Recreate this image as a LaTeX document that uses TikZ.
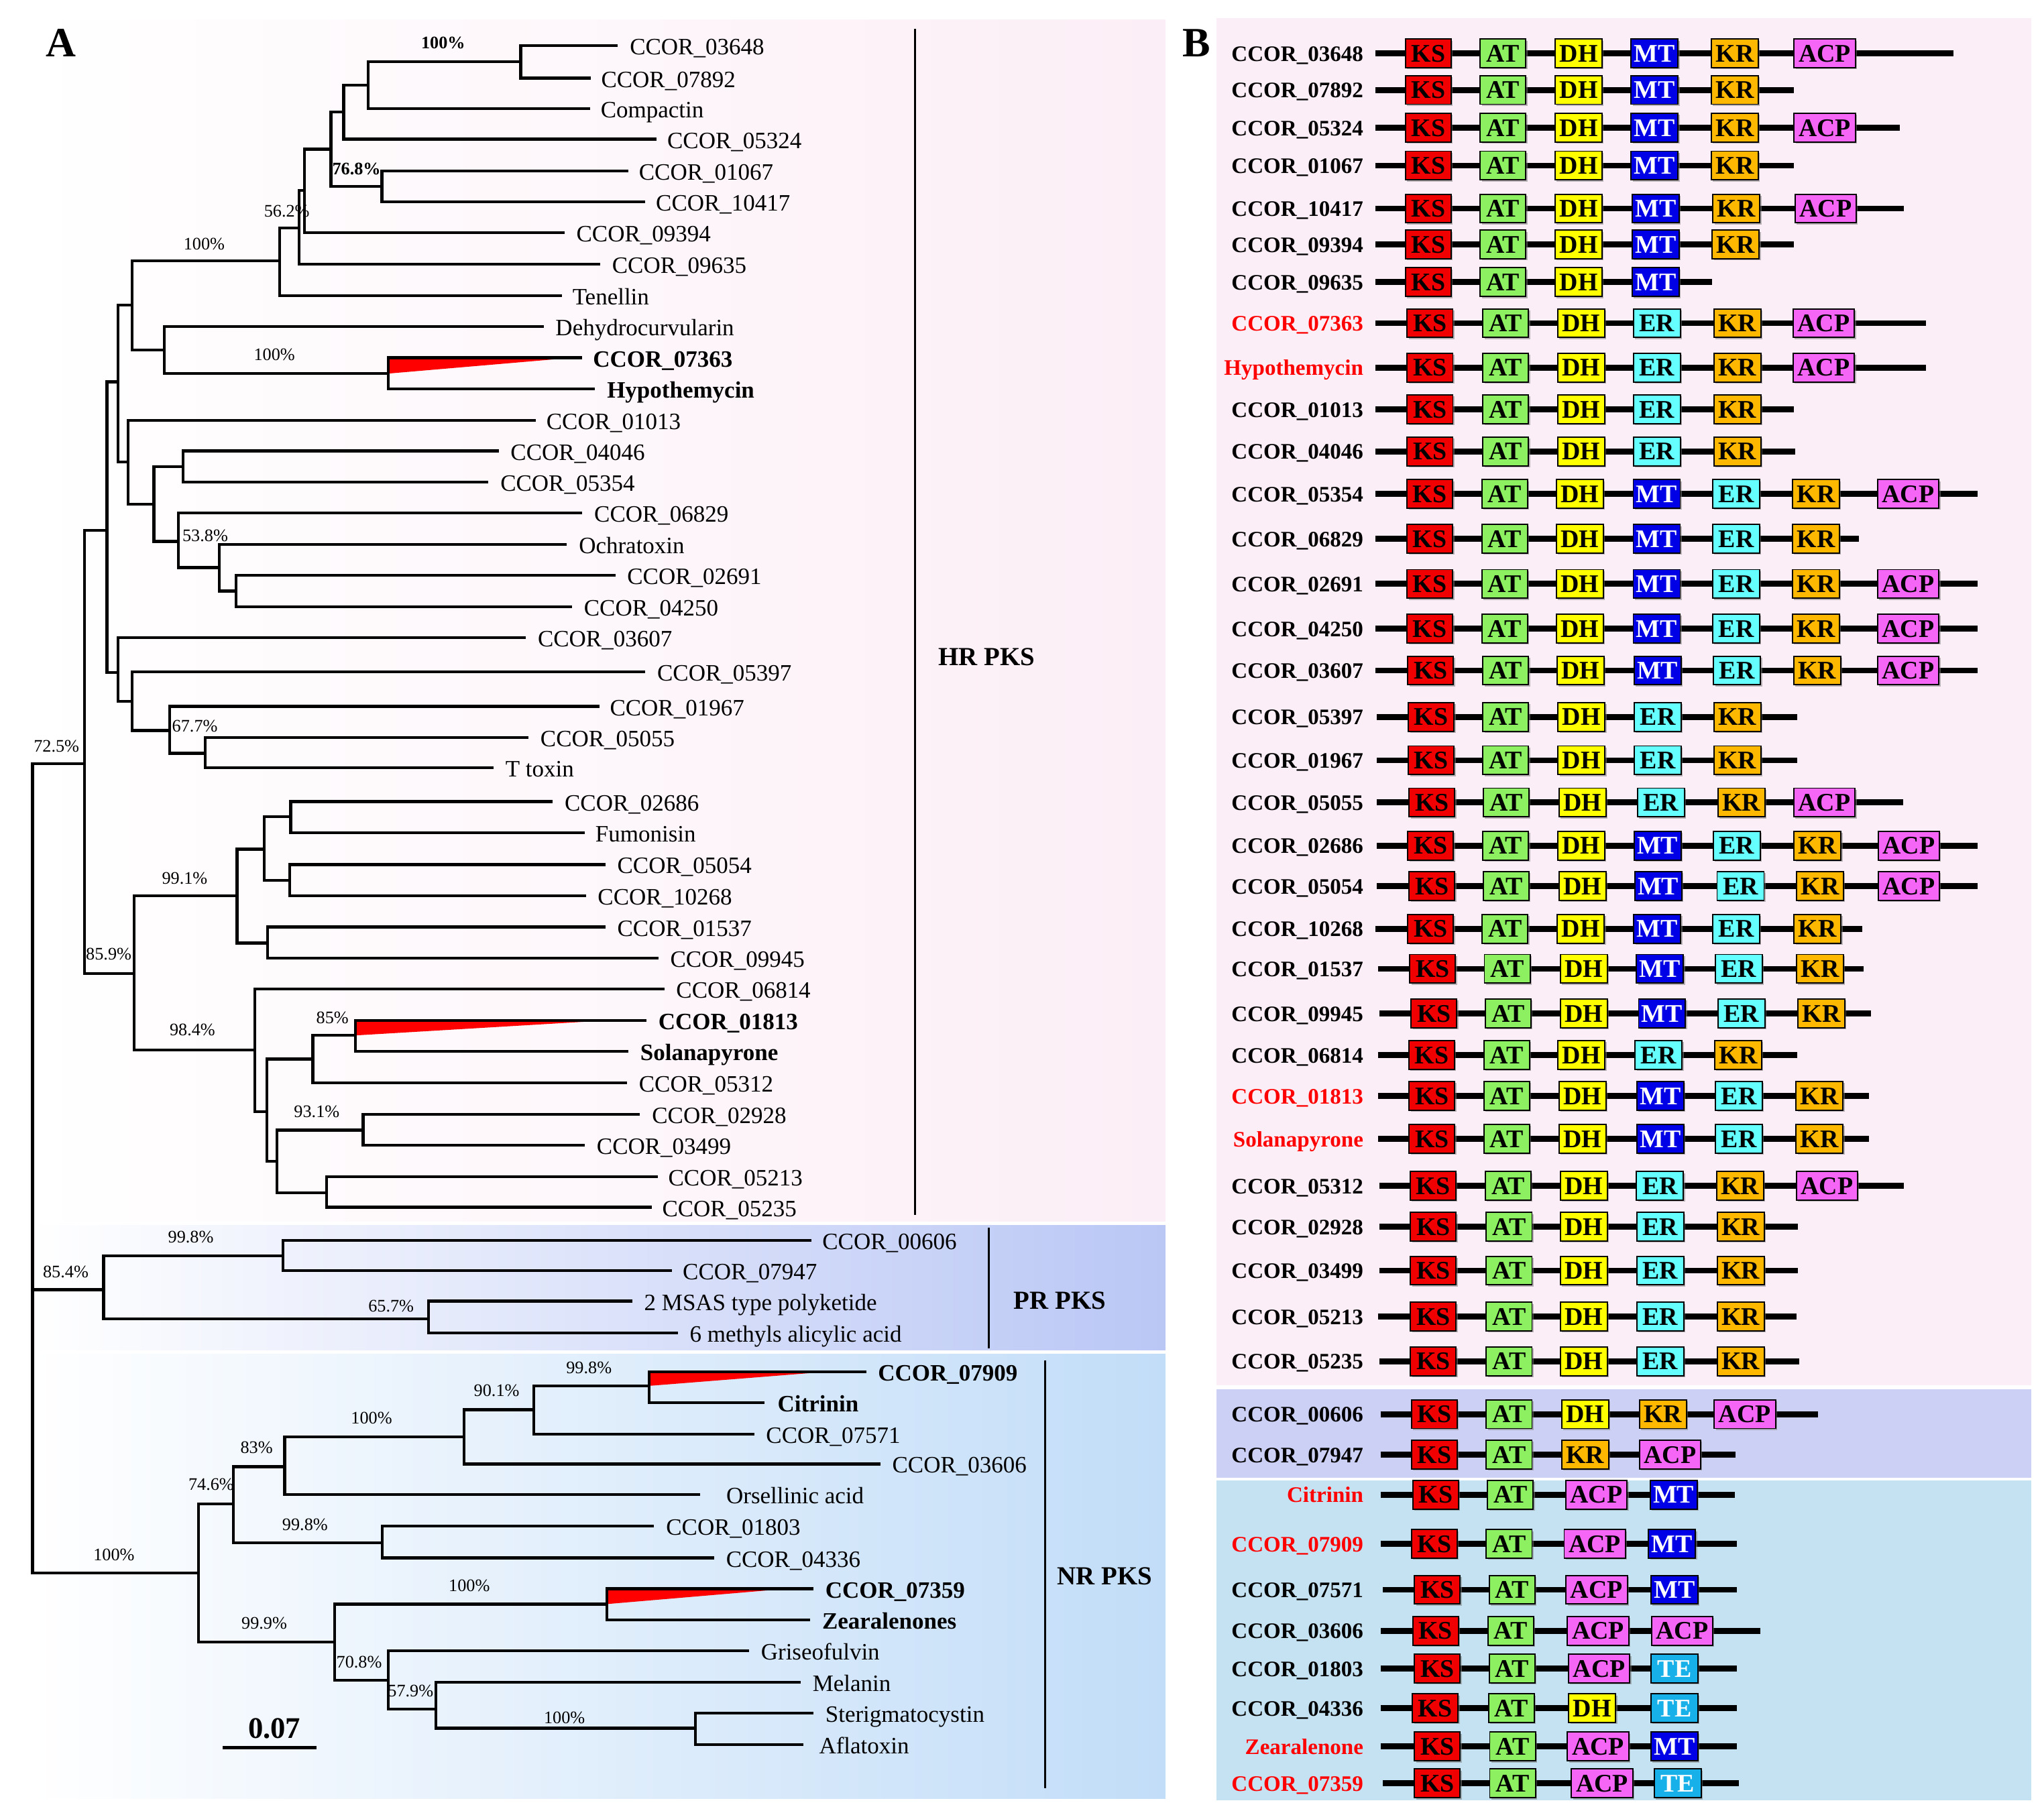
\documentclass[tikz,border=0pt]{standalone}
\usepackage{fontspec}
\setmainfont{Liberation Serif}
\usetikzlibrary{shadows}
\definecolor{hrpink}{RGB}{252,238,246}
\definecolor{prblue}{RGB}{186,199,245}
\definecolor{nrblue}{RGB}{194,221,248}
\definecolor{bpink}{RGB}{251,238,246}
\definecolor{blav}{RGB}{205,208,245}
\definecolor{bblue}{RGB}{196,226,242}
\definecolor{cKS}{RGB}{240,0,0}
\definecolor{cAT}{RGB}{140,240,96}
\definecolor{cDH}{RGB}{255,255,0}
\definecolor{cMT}{RGB}{0,0,230}
\definecolor{cER}{RGB}{102,255,255}
\definecolor{cKR}{RGB}{255,184,0}
\definecolor{cACP}{RGB}{246,102,246}
\definecolor{cTE}{RGB}{24,176,232}
\colorlet{tKS}{black}
\colorlet{tAT}{black}
\colorlet{tDH}{black}
\colorlet{tMT}{white}
\colorlet{tER}{black}
\colorlet{tKR}{black}
\colorlet{tACP}{black}
\colorlet{tTE}{white}
\def\domwKS{35pt}
\def\domwAT{35pt}
\def\domwDH{36pt}
\def\domwMT{36pt}
\def\domwER{36pt}
\def\domwKR{36pt}
\def\domwACP{47pt}
\def\domwTE{36pt}
\newcommand{\fsz}[1]{\fontsize{#1}{#1}\selectfont}
\newcommand{\pksrow}[7]{%
  \coordinate (s#1) at (#5,#2);
  \coordinate (e#1) at (#6,#2);
  \draw[backbone] (s#1) -- (e#1);
  \node[blab, text=#3] (lab#1) at ([yshift=-6pt]1046,#2) {#4};
  \foreach \dn/\dx [count=\k] in {#7}{%
    \node[dom, fill=c\dn, text=t\dn, minimum width=\csname domw\dn\endcsname] (#1d\k) at (\dx,#2) {\dn};
  }%
}
\begin{document}
\begin{tikzpicture}[x=1pt,y=-1pt,
  br/.style={line width=2.2pt, line join=miter},
  tip/.style={anchor=base west, inner sep=0pt, font=\fsz{18}},
  tipb/.style={anchor=base west, inner sep=0pt, font=\bfseries\fsz{18}},
  bs/.style={inner sep=0pt, font=\fsz{13.5}},
  bsb/.style={inner sep=0pt, font=\bfseries\fsz{13.5}},
  grp/.style={inner sep=0pt, font=\bfseries\fsz{20}},
  grpline/.style={line width=1.6pt},
  panel/.style={inner sep=0pt, font=\bfseries\fsz{32}},
  blab/.style={anchor=base east, inner sep=0pt, font=\bfseries\fsz{17}},
  backbone/.style={line width=4.5pt},
  dom/.style={draw=black, line width=1pt, minimum height=22pt, inner sep=0pt,
    text height=13pt, text depth=0pt, font=\bfseries\fsz{19.5},
    drop shadow={shadow xshift=1.2pt,shadow yshift=-1.2pt,opacity=0.55}}
]
\useasboundingbox (0,0) rectangle (1568,1389);
\fill[white] (0,0) rectangle (1568,1389);
% ---------- backgrounds ----------
\shade[left color=white, right color=hrpink] (22,15) rectangle (894,937);
\shade[left color=white, right color=prblue] (22,940) rectangle (894,1036);
\shade[left color=white, right color=nrblue] (22,1039) rectangle (894,1380);
\fill[bpink] (933,14) rectangle (1558,1063);
\fill[blav] (933,1066) rectangle (1558,1134);
\fill[bblue] (933,1136) rectangle (1558,1381);
% ---------- panel letters ----------
\node[panel] (pA) at (47,33) {A};
\node[panel] (pB) at (918,33) {B};
% ---------- tree tips ----------
\coordinate (t03648) at (474,35);
\coordinate (t07892) at (453,60);
\coordinate (tcomp) at (452.6,83.4);
\coordinate (t05324) at (503.7,106.8);
\coordinate (t01067) at (482,131);
\coordinate (t10417) at (495,155);
\coordinate (t09394) at (433,178.6);
\coordinate (t09635) at (460.4,202.5);
\coordinate (ttene) at (431,226.9);
\coordinate (tdehy) at (417,250.7);
\coordinate (t07363) at (446.7,274.4);
\coordinate (thypo) at (456.5,298.5);
\coordinate (t01013) at (411,322.4);
\coordinate (t04046) at (382.5,346);
\coordinate (t05354) at (374.7,370);
\coordinate (t06829) at (446.7,393.6);
\coordinate (tochr) at (434.9,417.7);
\coordinate (t02691) at (472,441.3);
\coordinate (t04250) at (438.8,465.4);
\coordinate (t03607) at (403.4,489.3);
\coordinate (t05397) at (495,515.3);
\coordinate (t01967) at (459.7,542);
\coordinate (t05055) at (405.4,565.8);
\coordinate (tttox) at (378.6,589.2);
\coordinate (t02686) at (424,615);
\coordinate (tfumo) at (448.6,639);
\coordinate (t05054) at (464.4,663.3);
\coordinate (t10268) at (449.4,687.4);
\coordinate (t01537) at (464.4,711.2);
\coordinate (t09945) at (505,735.3);
\coordinate (t06814) at (509.6,758.8);
\coordinate (t01813) at (495.9,783);
\coordinate (tsola) at (482,806.8);
\coordinate (t05312) at (481,830.7);
\coordinate (t02928) at (491,854.8);
\coordinate (t03499) at (448.6,878.7);
\coordinate (t05213) at (504.5,902.8);
\coordinate (t05235) at (499.8,926.2);
\coordinate (t00606) at (622.7,951.7);
\coordinate (t07947) at (515.6,974.7);
\coordinate (tmsas) at (485,998.3);
\coordinate (tmeth) at (520,1022.8);
\coordinate (t07909) at (664.4,1052.4);
\coordinate (tcitr) at (586.4,1076);
\coordinate (t07571) at (578.5,1100.2);
\coordinate (t03606) at (675.3,1123.2);
\coordinate (torse) at (537,1146.8);
\coordinate (t01803) at (501.8,1171);
\coordinate (t04336) at (547.8,1195.3);
\coordinate (t07359) at (624,1218.9);
\coordinate (tzear) at (621.5,1242.8);
\coordinate (tgris) at (574.6,1266.4);
\coordinate (tmela) at (614.2,1290.6);
\coordinate (tster) at (624,1314.2);
\coordinate (tafla) at (616.2,1338.5);
% ---------- internal nodes ----------
\coordinate (a1) at (399.5,47.5);
\coordinate (a2) at (282.6,65.4);
\coordinate (a3) at (263.7,86);
\coordinate (a4) at (293,143);
\coordinate (a5) at (253.8,114.5);
\coordinate (a6) at (233.4,146);
\coordinate (a7) at (229.4,175);
\coordinate (a8) at (214.5,200);
\coordinate (a9) at (298,286.6);
\coordinate (a10) at (126,268.7);
\coordinate (a11) at (101.5,234);
\coordinate (b1) at (140.5,358);
\coordinate (b2) at (181,453.4);
\coordinate (b3) at (168.4,435.4);
\coordinate (b4) at (137,415.4);
\coordinate (b5) at (118,386.7);
\coordinate (b6) at (98.4,354.5);
\coordinate (a12) at (90.5,293);
\coordinate (c1) at (157.4,578);
\coordinate (c2) at (130,560.5);
\coordinate (c3) at (101.5,538.2);
\coordinate (c4) at (90.5,516);
\coordinate (a13) at (82,407);
\coordinate (d1) at (223,626.6);
\coordinate (d2) at (222.4,675.4);
\coordinate (d3) at (202.7,651.5);
\coordinate (d4) at (205.4,723.6);
\coordinate (d5) at (181.8,687.4);
\coordinate (e1) at (272.7,794.4);
\coordinate (e2) at (240,812.5);
\coordinate (e3) at (278.6,867);
\coordinate (e4) at (250.7,915);
\coordinate (e5) at (212.5,891);
\coordinate (e6) at (204.6,853);
\coordinate (e7) at (195.6,805.5);
\coordinate (d6) at (103,747);
\coordinate (hr) at (65,586);
\coordinate (f1) at (217.2,963.5);
\coordinate (f2) at (328.6,1012);
\coordinate (pr) at (79.5,989.5);
\coordinate (g1) at (497.8,1063.3);
\coordinate (g2) at (409.3,1081.6);
\coordinate (g3) at (356,1102.6);
\coordinate (g4) at (218.4,1125.3);
\coordinate (g5) at (293.2,1183.7);
\coordinate (g6) at (179,1154);
\coordinate (h1) at (465.6,1230.7);
\coordinate (h2) at (533.3,1326);
\coordinate (h3) at (334.5,1311.3);
\coordinate (h4) at (298,1289);
\coordinate (h5) at (256.6,1260);
\coordinate (g7) at (152.3,1207);
\coordinate (root) at (25,586);
% ---------- red triangles ----------
\coordinate (r1) at (440,274.4);
\coordinate (r2) at (464,783);
\coordinate (r3) at (635,1052.4);
\coordinate (r4) at (604,1218.9);
\fill[red] (a9 |- t07363) -- (r1) -- (a9) -- cycle;
\fill[red] (e1 |- t01813) -- (r2) -- (e1) -- cycle;
\fill[red] (g1 |- t07909) -- (r3) -- (g1) -- cycle;
\fill[red] (h1 |- t07359) -- (r4) -- (h1) -- cycle;
% ---------- branches ----------
\draw[br] (t03648) -| (a1 |- t07892) -- (t07892);
\draw[br] (a1) -| (a2 |- tcomp) -- (tcomp);
\draw[br] (a2) -| (a3 |- t05324) -- (t05324);
\draw[br] (t01067) -| (a4 |- t10417) -- (t10417);
\draw[br] (a3) -| (a5 |- a4) -- (a4);
\draw[br] (a5) -| (a6 |- t09394) -- (t09394);
\draw[br] (a6) -| (a7 |- t09635) -- (t09635);
\draw[br] (a7) -| (a8 |- ttene) -- (ttene);
\draw[br] (t07363) -| (a9 |- thypo) -- (thypo);
\draw[br] (tdehy) -| (a10 |- a9) -- (a9);
\draw[br] (a8) -| (a11 |- a10) -- (a10);
\draw[br] (t04046) -| (b1 |- t05354) -- (t05354);
\draw[br] (t02691) -| (b2 |- t04250) -- (t04250);
\draw[br] (tochr) -| (b3 |- b2) -- (b2);
\draw[br] (t06829) -| (b4 |- b3) -- (b3);
\draw[br] (b1) -| (b5 |- b4) -- (b4);
\draw[br] (t01013) -| (b6 |- b5) -- (b5);
\draw[br] (a11) -| (a12 |- b6) -- (b6);
\draw[br] (t05055) -| (c1 |- tttox) -- (tttox);
\draw[br] (t01967) -| (c2 |- c1) -- (c1);
\draw[br] (t05397) -| (c3 |- c2) -- (c2);
\draw[br] (t03607) -| (c4 |- c3) -- (c3);
\draw[br] (a12) -| (a13 |- c4) -- (c4);
\draw[br] (t02686) -| (d1 |- tfumo) -- (tfumo);
\draw[br] (t05054) -| (d2 |- t10268) -- (t10268);
\draw[br] (d1) -| (d3 |- d2) -- (d2);
\draw[br] (t01537) -| (d4 |- t09945) -- (t09945);
\draw[br] (d3) -| (d5 |- d4) -- (d4);
\draw[br] (t01813) -| (e1 |- tsola) -- (tsola);
\draw[br] (e1) -| (e2 |- t05312) -- (t05312);
\draw[br] (t02928) -| (e3 |- t03499) -- (t03499);
\draw[br] (t05213) -| (e4 |- t05235) -- (t05235);
\draw[br] (e3) -| (e5 |- e4) -- (e4);
\draw[br] (e2) -| (e6 |- e5) -- (e5);
\draw[br] (t06814) -| (e7 |- e6) -- (e6);
\draw[br] (d5) -| (d6 |- e7) -- (e7);
\draw[br] (a13) -| (hr |- d6) -- (d6);
\draw[br] (t00606) -| (f1 |- t07947) -- (t07947);
\draw[br] (tmsas) -| (f2 |- tmeth) -- (tmeth);
\draw[br] (f1) -| (pr |- f2) -- (f2);
\draw[br] (t07909) -| (g1 |- tcitr) -- (tcitr);
\draw[br] (g1) -| (g2 |- t07571) -- (t07571);
\draw[br] (g2) -| (g3 |- t03606) -- (t03606);
\draw[br] (g3) -| (g4 |- torse) -- (torse);
\draw[br] (t01803) -| (g5 |- t04336) -- (t04336);
\draw[br] (g4) -| (g6 |- g5) -- (g5);
\draw[br] (t07359) -| (h1 |- tzear) -- (tzear);
\draw[br] (tster) -| (h2 |- tafla) -- (tafla);
\draw[br] (tmela) -| (h3 |- h2) -- (h2);
\draw[br] (tgris) -| (h4 |- h3) -- (h3);
\draw[br] (h1) -| (h5 |- h4) -- (h4);
\draw[br] (g6) -| (g7 |- h5) -- (h5);
\draw[br] (hr) -| (root |- g7) -- (g7);
\draw[br] (root |- pr) -- (pr);
% ---------- tip labels ----------
\node[tip] (l03648) at ([xshift=9pt,yshift=-7pt]t03648) {CCOR\_03648};
\node[tip] (l07892) at ([xshift=8pt,yshift=-7pt]t07892) {CCOR\_07892};
\node[tip] (lcomp) at ([xshift=8pt,yshift=-7pt]tcomp) {Compactin};
\node[tip] (l05324) at ([xshift=8pt,yshift=-7pt]t05324) {CCOR\_05324};
\node[tip] (l01067) at ([xshift=8pt,yshift=-7pt]t01067) {CCOR\_01067};
\node[tip] (l10417) at ([xshift=8pt,yshift=-7pt]t10417) {CCOR\_10417};
\node[tip] (l09394) at ([xshift=9pt,yshift=-7pt]t09394) {CCOR\_09394};
\node[tip] (l09635) at ([xshift=9pt,yshift=-7pt]t09635) {CCOR\_09635};
\node[tip] (ltene) at ([xshift=8pt,yshift=-7pt]ttene) {Tenellin};
\node[tip] (ldehy) at ([xshift=9pt,yshift=-7pt]tdehy) {Dehydrocurvularin};
\node[tipb] (l07363) at ([xshift=8pt,yshift=-7pt]t07363) {CCOR\_07363};
\node[tipb] (lhypo) at ([xshift=9pt,yshift=-7pt]thypo) {Hypothemycin};
\node[tip] (l01013) at ([xshift=8pt,yshift=-7pt]t01013) {CCOR\_01013};
\node[tip] (l04046) at ([xshift=9pt,yshift=-7pt]t04046) {CCOR\_04046};
\node[tip] (l05354) at ([xshift=9pt,yshift=-7pt]t05354) {CCOR\_05354};
\node[tip] (l06829) at ([xshift=9pt,yshift=-7pt]t06829) {CCOR\_06829};
\node[tip] (lochr) at ([xshift=9pt,yshift=-7pt]tochr) {Ochratoxin};
\node[tip] (l02691) at ([xshift=9pt,yshift=-7pt]t02691) {CCOR\_02691};
\node[tip] (l04250) at ([xshift=9pt,yshift=-7pt]t04250) {CCOR\_04250};
\node[tip] (l03607) at ([xshift=9pt,yshift=-7pt]t03607) {CCOR\_03607};
\node[tip] (l05397) at ([xshift=9pt,yshift=-7pt]t05397) {CCOR\_05397};
\node[tip] (l01967) at ([xshift=8pt,yshift=-7pt]t01967) {CCOR\_01967};
\node[tip] (l05055) at ([xshift=9pt,yshift=-7pt]t05055) {CCOR\_05055};
\node[tip] (lttox) at ([xshift=9pt,yshift=-7pt]tttox) {T toxin};
\node[tip] (l02686) at ([xshift=9pt,yshift=-7pt]t02686) {CCOR\_02686};
\node[tip] (lfumo) at ([xshift=8pt,yshift=-7pt]tfumo) {Fumonisin};
\node[tip] (l05054) at ([xshift=9pt,yshift=-7pt]t05054) {CCOR\_05054};
\node[tip] (l10268) at ([xshift=9pt,yshift=-7pt]t10268) {CCOR\_10268};
\node[tip] (l01537) at ([xshift=9pt,yshift=-7pt]t01537) {CCOR\_01537};
\node[tip] (l09945) at ([xshift=9pt,yshift=-7pt]t09945) {CCOR\_09945};
\node[tip] (l06814) at ([xshift=9pt,yshift=-7pt]t06814) {CCOR\_06814};
\node[tipb] (l01813) at ([xshift=9pt,yshift=-7pt]t01813) {CCOR\_01813};
\node[tipb] (lsola) at ([xshift=9pt,yshift=-7pt]tsola) {Solanapyrone};
\node[tip] (l05312) at ([xshift=9pt,yshift=-7pt]t05312) {CCOR\_05312};
\node[tip] (l02928) at ([xshift=9pt,yshift=-7pt]t02928) {CCOR\_02928};
\node[tip] (l03499) at ([xshift=9pt,yshift=-7pt]t03499) {CCOR\_03499};
\node[tip] (l05213) at ([xshift=8pt,yshift=-7pt]t05213) {CCOR\_05213};
\node[tip] (l05235) at ([xshift=8pt,yshift=-7pt]t05235) {CCOR\_05235};
\node[tip] (l00606) at ([xshift=8pt,yshift=-7pt]t00606) {CCOR\_00606};
\node[tip] (l07947) at ([xshift=8pt,yshift=-7pt]t07947) {CCOR\_07947};
\node[tip] (lmsas) at ([xshift=9pt,yshift=-7pt]tmsas) {2 MSAS type polyketide};
\node[tip] (lmeth) at ([xshift=9pt,yshift=-7pt]tmeth) {6 methyls alicylic acid};
\node[tipb] (l07909) at ([xshift=9pt,yshift=-7pt]t07909) {CCOR\_07909};
\node[tipb] (lcitr) at ([xshift=10pt,yshift=-7pt]tcitr) {Citrinin};
\node[tip] (l07571) at ([xshift=9pt,yshift=-7pt]t07571) {CCOR\_07571};
\node[tip] (l03606) at ([xshift=9pt,yshift=-7pt]t03606) {CCOR\_03606};
\node[tip] (lorse) at ([xshift=20pt,yshift=-7pt]torse) {Orsellinic acid};
\node[tip] (l01803) at ([xshift=9pt,yshift=-7pt]t01803) {CCOR\_01803};
\node[tip] (l04336) at ([xshift=9pt,yshift=-7pt]t04336) {CCOR\_04336};
\node[tipb] (l07359) at ([xshift=9pt,yshift=-7pt]t07359) {CCOR\_07359};
\node[tipb] (lzear) at ([xshift=9pt,yshift=-7pt]tzear) {Zearalenones};
\node[tip] (lgris) at ([xshift=9pt,yshift=-7pt]tgris) {Griseofulvin};
\node[tip] (lmela) at ([xshift=9pt,yshift=-7pt]tmela) {Melanin};
\node[tip] (lster) at ([xshift=9pt,yshift=-7pt]tster) {Sterigmatocystin};
\node[tip] (lafla) at ([xshift=12pt,yshift=-7pt]tafla) {Aflatoxin};
% ---------- bootstrap values ----------
\node[bsb] (bs1) at (340,33) {100\%};
\node[bsb] (bs2) at (273.5,129.7) {76.8\%};
\node[bs] (bs3) at (220,162) {56.2\%};
\node[bs] (bs4) at (156.6,187) {100\%};
\node[bs] (bs5) at (210.5,272) {100\%};
\node[bs] (bs6) at (157.4,410.8) {53.8\%};
\node[bs] (bs7) at (149.5,557) {67.7\%};
\node[bs] (bs8) at (43.3,572.7) {72.5\%};
\node[bs] (bs9) at (141.7,674) {99.1\%};
\node[bs] (bs10) at (83.4,732) {85.9\%};
\node[bs] (bs11) at (147.6,790) {98.4\%};
\node[bs] (bs12) at (255,781) {85\%};
\node[bs] (bs13) at (243,853) {93.1\%};
\node[bs] (bs14) at (146.4,949) {99.8\%};
\node[bs] (bs15) at (50.4,976) {85.4\%};
\node[bs] (bs16) at (300,1002) {65.7\%};
\node[bs] (bs17) at (451.8,1049.4) {99.8\%};
\node[bs] (bs18) at (381,1067) {90.1\%};
\node[bs] (bs19) at (285,1087.8) {100\%};
\node[bs] (bs20) at (196.8,1110.5) {83\%};
\node[bs] (bs21) at (162,1139) {74.6\%};
\node[bs] (bs22) at (234,1169.6) {99.8\%};
\node[bs] (bs23) at (87.4,1193) {100\%};
\node[bs] (bs24) at (360,1216.8) {100\%};
\node[bs] (bs25) at (202.7,1245.5) {99.9\%};
\node[bs] (bs26) at (275.5,1275) {70.8\%};
\node[bs] (bs27) at (315,1297.4) {57.9\%};
\node[bs] (bs28) at (433,1318) {100\%};
% ---------- scale bar ----------
\coordinate (sb1) at (171,1340.8);
\coordinate (sb2) at (243,1340.8);
\draw[line width=2.2pt] (sb1) -- (sb2);
\node[inner sep=0pt, font=\bfseries\fsz{23}] (sbl) at (210.5,1326) {0.07};
% ---------- group bars and labels ----------
\coordinate (hrt) at (702,22);
\coordinate (hrb) at (702,932);
\coordinate (prt) at (758.5,942);
\coordinate (prb) at (758.5,1034.6);
\coordinate (nrt) at (801.8,1044);
\coordinate (nrb) at (801.8,1372);
\draw[grpline] (hrt) -- (hrb);
\draw[grpline] (prt) -- (prb);
\draw[grpline] (nrt) -- (nrb);
\node[grp] (ghr) at (757,504) {HR PKS};
\node[grp] (gpr) at (813,998) {PR PKS};
\node[grp] (gnr) at (847.5,1209.4) {NR PKS};
% ---------- panel B rows ----------
\pksrow{r1}{41}{black}{CCOR\_03648}{1055}{1498.6}{KS/1095.7,AT/1153,DH/1211,MT/1269.3,KR/1330.8,ACP/1399.8}
\pksrow{r2}{69}{black}{CCOR\_07892}{1055}{1376.3}{KS/1095.7,AT/1153,DH/1211,MT/1269.3,KR/1330.8}
\pksrow{r3}{98}{black}{CCOR\_05324}{1055}{1457.3}{KS/1095.7,AT/1153,DH/1211,MT/1269.3,KR/1330.8,ACP/1399.8}
\pksrow{r4}{127}{black}{CCOR\_01067}{1055}{1376.3}{KS/1095.7,AT/1153,DH/1211,MT/1269.3,KR/1330.8}
\pksrow{r5}{160}{black}{CCOR\_10417}{1055}{1460.3}{KS/1095.7,AT/1153,DH/1211,MT/1270,KR/1332,ACP/1400.5}
\pksrow{r6}{187.6}{black}{CCOR\_09394}{1055}{1376.3}{KS/1095.7,AT/1153,DH/1211,MT/1270,KR/1331.5}
\pksrow{r7}{216.5}{black}{CCOR\_09635}{1055}{1313.3}{KS/1095.7,AT/1153,DH/1211,MT/1270}
\pksrow{r8}{248}{red}{CCOR\_07363}{1055}{1477.3}{KS/1097,AT/1155,DH/1212.9,ER/1271,KR/1332.7,ACP/1399}
\pksrow{r9}{282}{red}{Hypothemycin}{1055}{1477.3}{KS/1097,AT/1155,DH/1212.9,ER/1271,KR/1332.7,ACP/1399}
\pksrow{r10}{314}{black}{CCOR\_01013}{1055}{1376.3}{KS/1097,AT/1155,DH/1212.9,ER/1271,KR/1332.7}
\pksrow{r11}{346.3}{black}{CCOR\_04046}{1055}{1377}{KS/1097,AT/1155,DH/1212.9,ER/1271,KR/1332.7}
\pksrow{r12}{379}{black}{CCOR\_05354}{1055}{1517}{KS/1096.9,AT/1154.2,DH/1211.9,MT/1270.9,ER/1331.9,KR/1393.1,ACP/1463.8}
\pksrow{r13}{413.4}{black}{CCOR\_06829}{1055}{1426}{KS/1096.9,AT/1154.2,DH/1211.9,MT/1270.9,ER/1331.9,KR/1393.1}
\pksrow{r14}{448}{black}{CCOR\_02691}{1055}{1517}{KS/1096.9,AT/1154.2,DH/1211.9,MT/1270.9,ER/1331.9,KR/1393.1,ACP/1463.8}
\pksrow{r15}{482.3}{black}{CCOR\_04250}{1055}{1517}{KS/1096.9,AT/1154.2,DH/1211.9,MT/1270.9,ER/1331.9,KR/1393.1,ACP/1463.8}
\pksrow{r16}{514.4}{black}{CCOR\_03607}{1055}{1517}{KS/1097.5,AT/1155,DH/1212.5,MT/1271.5,ER/1332.5,KR/1394,ACP/1463.8}
\pksrow{r17}{550}{black}{CCOR\_05397}{1056}{1378.5}{KS/1097.9,AT/1155,DH/1213.2,ER/1271.7,KR/1332.7}
\pksrow{r18}{583.3}{black}{CCOR\_01967}{1056}{1378.5}{KS/1097.9,AT/1155,DH/1213.2,ER/1271.7,KR/1332.7}
\pksrow{r19}{615.7}{black}{CCOR\_05055}{1056}{1460}{KS/1098.5,AT/1155.4,DH/1214,ER/1274.2,KR/1335.8,ACP/1399.5}
\pksrow{r20}{648.8}{black}{CCOR\_02686}{1056}{1517}{KS/1097.5,AT/1155,DH/1213,MT/1271.5,ER/1332.3,KR/1394.2,ACP/1464.2}
\pksrow{r21}{679.8}{black}{CCOR\_05054}{1056}{1517}{KS/1098.5,AT/1155.4,DH/1214,MT/1272,ER/1335.2,KR/1396.2,ACP/1464.2}
\pksrow{r22}{712.6}{black}{CCOR\_10268}{1055}{1428.5}{KS/1097.5,AT/1154.6,DH/1212.6,MT/1271.3,ER/1331.9,KR/1394.2}
\pksrow{r23}{743.3}{black}{CCOR\_01537}{1057}{1429.6}{KS/1099,AT/1156.2,DH/1215,MT/1273.4,ER/1333.8,KR/1396.2}
\pksrow{r24}{777.5}{black}{CCOR\_09945}{1058}{1435}{KS/1100,AT/1157,DH/1215,MT/1275,ER/1335.8,KR/1397.2}
\pksrow{r25}{809.4}{black}{CCOR\_06814}{1057}{1378.5}{KS/1098.3,AT/1155.8,DH/1213.2,ER/1272.3,KR/1333.4}
\pksrow{r26}{840.8}{red}{CCOR\_01813}{1057}{1433.7}{KS/1098.5,AT/1155.8,DH/1214,MT/1273.6,ER/1334,KR/1395.8}
\pksrow{r27}{873.7}{red}{Solanapyrone}{1057}{1433.7}{KS/1098.5,AT/1155.8,DH/1214,MT/1273.6,ER/1334,KR/1395.8}
\pksrow{r28}{909.8}{black}{CCOR\_05312}{1058}{1460.3}{KS/1099.3,AT/1157,DH/1215,ER/1273.4,KR/1334.8,ACP/1401.5}
\pksrow{r29}{941.2}{black}{CCOR\_02928}{1058}{1379}{KS/1099.5,AT/1157.7,DH/1215,ER/1273.6,KR/1335.4}
\pksrow{r30}{974.8}{black}{CCOR\_03499}{1058}{1379}{KS/1099.5,AT/1157.7,DH/1215,ER/1273.6,KR/1335.4}
\pksrow{r31}{1010.2}{black}{CCOR\_05213}{1057}{1378}{KS/1099.5,AT/1157.7,DH/1215,ER/1273.6,KR/1335.4}
\pksrow{r32}{1044.4}{black}{CCOR\_05235}{1058}{1380}{KS/1099.5,AT/1157.7,DH/1215,ER/1273.6,KR/1335.4}
\pksrow{r33}{1085}{black}{CCOR\_00606}{1059}{1394.8}{KS/1100.4,AT/1157.7,DH/1216,KR/1275.6,ACP/1338.5}
\pksrow{r34}{1116}{black}{CCOR\_07947}{1059}{1331.3}{KS/1100.4,AT/1157.7,KR/1216,ACP/1281.1}
\pksrow{r35}{1146.8}{red}{Citrinin}{1059}{1331}{KS/1101.4,AT/1158.7,ACP/1224.6,MT/1283.8}
\pksrow{r36}{1184.6}{red}{CCOR\_07909}{1059}{1332.5}{KS/1100.4,AT/1157.7,ACP/1223.4,MT/1282.6}
\pksrow{r37}{1219.7}{black}{CCOR\_07571}{1061}{1332.5}{KS/1102.6,AT/1159.9,ACP/1224.8,MT/1284.6}
\pksrow{r38}{1251.2}{black}{CCOR\_03606}{1059}{1350.6}{KS/1101.2,AT/1158.9,ACP/1225.9,ACP/1290.4}
\pksrow{r39}{1280.2}{black}{CCOR\_01803}{1059}{1332.5}{KS/1102.6,AT/1159.9,ACP/1226.7,TE/1284.6}
\pksrow{r40}{1310.6}{black}{CCOR\_04336}{1059}{1332.5}{KS/1101,AT/1159.3,DH/1221.4,TE/1284.6}
\pksrow{r41}{1340}{red}{Zearalenone}{1059}{1332.5}{KS/1102.6,AT/1160.3,ACP/1225.9,MT/1284.6}
\pksrow{r42}{1368.3}{red}{CCOR\_07359}{1061}{1334}{KS/1102.6,AT/1160.3,ACP/1229,TE/1286.9}
\end{tikzpicture}
\end{document}
